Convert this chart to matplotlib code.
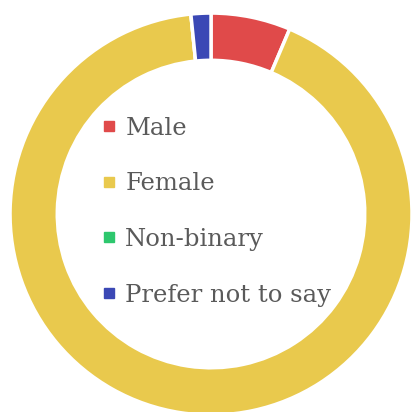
import matplotlib.pyplot as plt
from matplotlib.lines import Line2D

# respondents by gender
labels = ['Male', 'Female', 'Non-binary', 'Prefer not to say']
counts = [8, 115, 0, 2]
colors = ['#E04A4A', '#E9C94D', '#2DC76D', '#3B48B5']

fig = plt.figure(figsize=(4.11, 4.12), dpi=100)
ax = fig.add_axes([0, 0, 1, 1])

ax.pie(counts, colors=colors, startangle=90, counterclock=False,
       radius=1.0, wedgeprops=dict(width=0.235, edgecolor='white', linewidth=2.5))

ax.set_xlim(-1.050, 0.995)
ax.set_ylim(-0.985, 1.065)
ax.set_aspect('auto')
ax.axis('off')

# legend in the middle of the ring
handles = [Line2D([], [], marker='s', linestyle='none', markersize=7.5,
                  markerfacecolor=c, markeredgecolor=c) for c in colors]
leg = ax.legend(handles, labels, loc='upper left', bbox_to_anchor=(0.225, 0.74),
                frameon=False, handlelength=0.6, handletextpad=0.35,
                labelspacing=1.34, borderaxespad=0,
                prop={'family': 'DejaVu Serif', 'size': 17.5})
for t in leg.get_texts():
    t.set_color('#5a5a5a')

fig.savefig('out.png', dpi=100)
